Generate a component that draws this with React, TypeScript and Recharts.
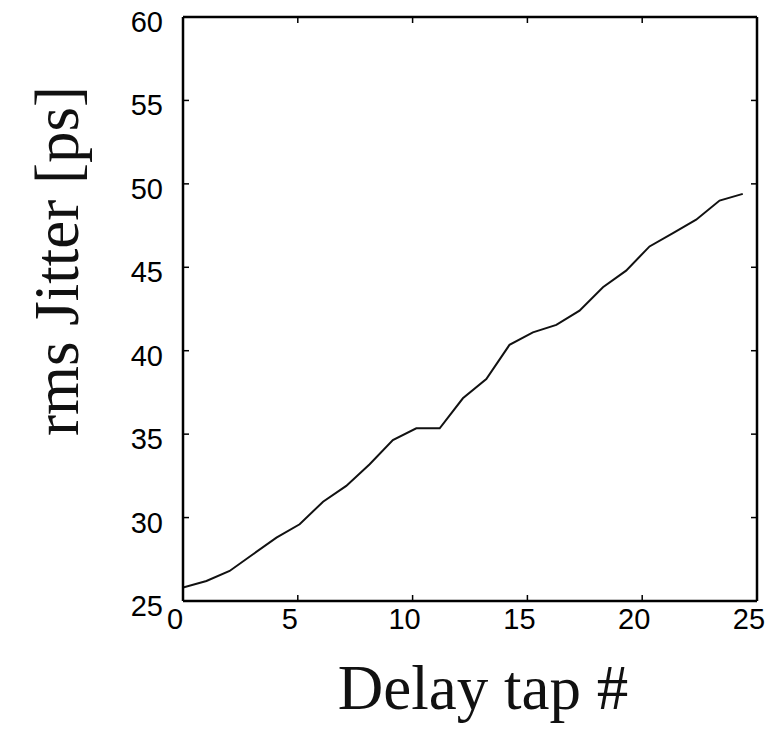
import { LineChart, Line, XAxis, YAxis, Label } from 'recharts'

// delay tap positions (as plotted) and measured rms jitter
const taps = [0, 1.02, 2.03, 3.05, 4.07, 5.08, 6.1, 7.11, 8.13, 9.14, 10.16, 11.18, 12.19, 13.21, 14.22, 15.24, 16.26, 17.27, 18.29, 19.3, 20.32, 21.34, 22.35, 23.37, 24.38]
const jitter = [25.8, 26.2, 26.8, 27.8, 28.8, 29.6, 30.95, 31.9, 33.2, 34.65, 35.35, 35.35, 37.15, 38.3, 40.35, 41.1, 41.55, 42.4, 43.8, 44.8, 46.25, 47.05, 47.85, 49.0, 49.4]

const xTicks = [0, 5, 10, 15, 20, 25]
const yTicks = [25, 30, 35, 40, 45, 50, 55, 60]

const data = taps.map((t, i) => ({ tap: t, jitter: jitter[i] }))

if (typeof document !== 'undefined') document.body.style.margin = '0'

const TICK = 6
const tickFont = { fontFamily: '"Liberation Sans", Arial, sans-serif', fontSize: 29, fill: '#000' }
const titleFont = { fontFamily: '"Liberation Serif", "Times New Roman", serif', fontSize: 63, fill: '#111' }

// eslint-disable-next-line @typescript-eslint/no-explicit-any
const BottomTick = ({ x, y, payload }: any) => (
  <g>
    <line x1={x} y1={y} x2={x} y2={y - TICK} stroke="#000" strokeWidth={1.5} />
    <text x={x - 8} y={y + 28} textAnchor="middle" {...tickFont}>{payload.value}</text>
  </g>
)
// eslint-disable-next-line @typescript-eslint/no-explicit-any
const TopTick = ({ x, y }: any) => (
  <line x1={x} y1={y} x2={x} y2={y + TICK} stroke="#000" strokeWidth={1.5} />
)
// eslint-disable-next-line @typescript-eslint/no-explicit-any
const LeftTick = ({ x, y, payload }: any) => (
  <g>
    <line x1={x} y1={y} x2={x + TICK} y2={y} stroke="#000" strokeWidth={1.5} />
    <text x={x - 20} y={y + 15} textAnchor="end" {...tickFont}>{payload.value}</text>
  </g>
)
// eslint-disable-next-line @typescript-eslint/no-explicit-any
const RightTick = ({ x, y }: any) => (
  <line x1={x} y1={y} x2={x - TICK} y2={y} stroke="#000" strokeWidth={1.5} />
)

export default function App() {
  return (
    <LineChart width={771} height={740} data={data} margin={{ top: 16, right: 13, bottom: 0, left: 0 }}>
      <XAxis
        dataKey="tap"
        type="number"
        domain={[0, 25]}
        ticks={xTicks}
        height={139}
        tickSize={0}
        tickMargin={0}
        tick={BottomTick}
        axisLine={{ stroke: '#000', strokeWidth: 2.5 }}
        allowDataOverflow
      >
        <Label
          content={({ viewBox }: any) => (
            <text x={viewBox.x + viewBox.width / 2 + 13} y={viewBox.y + 108} textAnchor="middle" {...titleFont}>
              Delay tap #
            </text>
          )}
        />
      </XAxis>
      <XAxis
        xAxisId="top"
        orientation="top"
        dataKey="tap"
        type="number"
        domain={[0, 25]}
        ticks={xTicks}
        height={1}
        tickSize={0}
        tickMargin={0}
        tick={TopTick}
        axisLine={{ stroke: '#000', strokeWidth: 2.5 }}
        allowDataOverflow
      />
      <YAxis
        type="number"
        domain={[25, 60]}
        ticks={yTicks}
        width={183}
        tickSize={0}
        tickMargin={0}
        tick={LeftTick}
        axisLine={{ stroke: '#000', strokeWidth: 2.5 }}
        allowDataOverflow
      >
        <Label
          content={({ viewBox }: any) => {
            const cx = 78
            const cy = viewBox.y + viewBox.height / 2 - 48
            return (
              <text x={cx} y={cy} transform={`rotate(-90, ${cx}, ${cy})`} textAnchor="middle" {...titleFont}>
                rms Jitter [ps]
              </text>
            )
          }}
        />
      </YAxis>
      <YAxis
        yAxisId="right"
        orientation="right"
        type="number"
        domain={[25, 60]}
        ticks={yTicks}
        width={1}
        tickSize={0}
        tickMargin={0}
        tick={RightTick}
        axisLine={{ stroke: '#000', strokeWidth: 2.5 }}
        allowDataOverflow
      />
      <Line
        dataKey="jitter"
        type="linear"
        stroke="#111"
        strokeWidth={2}
        dot={false}
        isAnimationActive={false}
      />
      <Line
        dataKey="jitter"
        xAxisId="top"
        yAxisId="right"
        stroke="transparent"
        dot={false}
        legendType="none"
        isAnimationActive={false}
      />
    </LineChart>
  )
}
